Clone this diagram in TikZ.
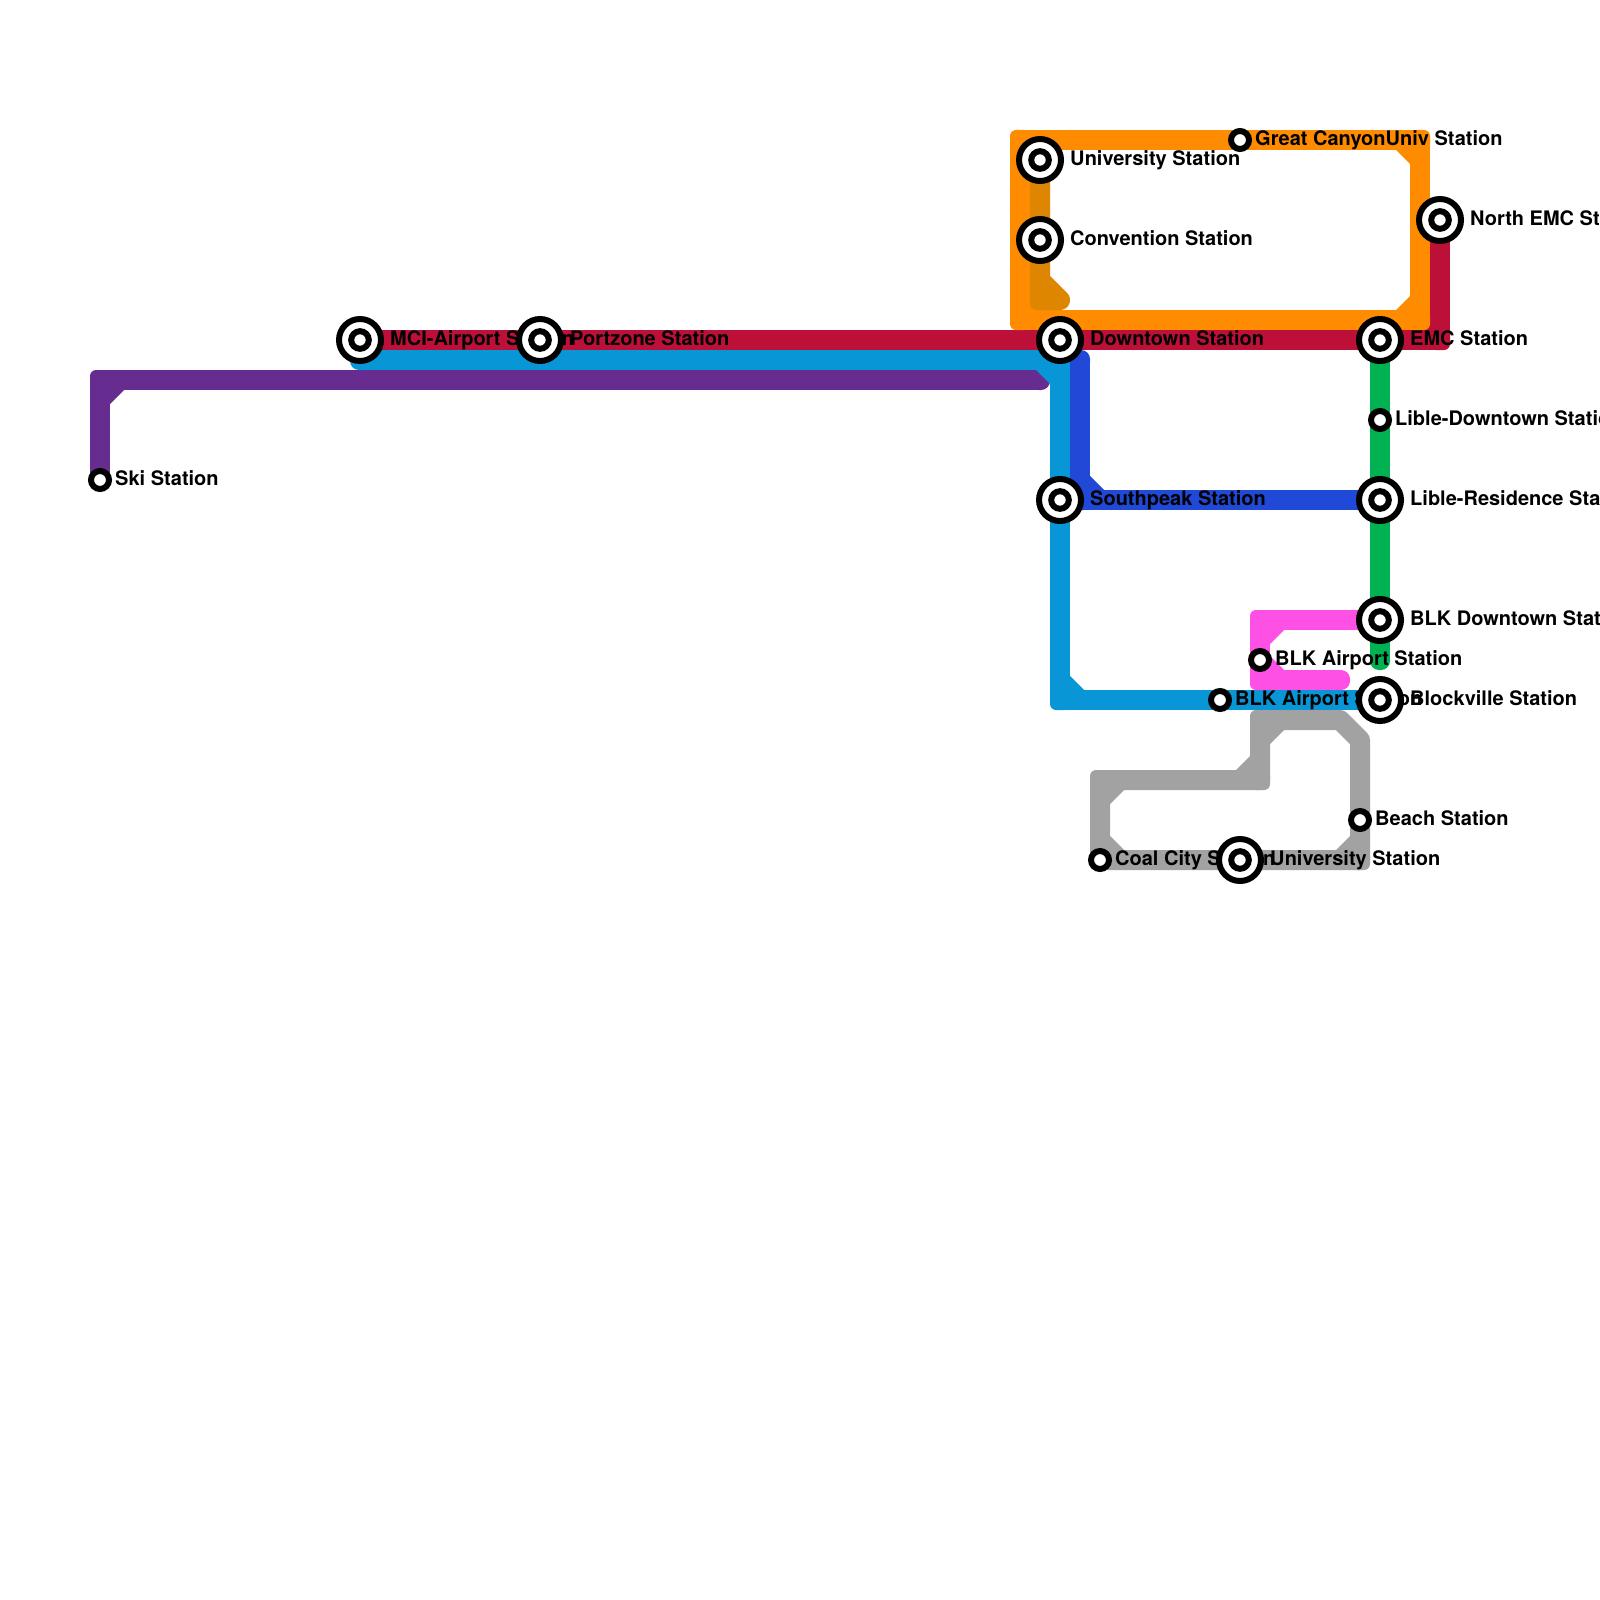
\documentclass[tikz,border=0pt]{standalone}
\usepackage{fontspec}
\setmainfont{TeX Gyre Heros}
\usetikzlibrary{calc}
\pgfdeclarelayer{lines}
\pgfdeclarelayer{labels}
\pgfsetlayers{lines,labels,main}
\definecolor{cRed}{HTML}{BD1038}
\definecolor{cOrange}{HTML}{FF8C00}
\definecolor{cDark}{HTML}{DF8600}
\definecolor{cCyan}{HTML}{0896D7}
\definecolor{cBlue}{HTML}{2149D8}
\definecolor{cPurple}{HTML}{662C90}
\definecolor{cGreen}{HTML}{00B251}
\definecolor{cPink}{HTML}{FF50E6}
\definecolor{cGrey}{HTML}{A2A2A2}
\tikzset{
  x=1pt,y=-1pt,
  bigst/.style={circle,draw=black,line width=6pt,fill=white,minimum size=42pt,inner sep=0pt,outer sep=0pt,
    path picture={\draw[black,line width=6pt] (path picture bounding box.center) circle (8.8pt);}},
  smallst/.style={circle,draw=black,line width=6pt,fill=white,minimum size=18pt,inner sep=0pt,outer sep=0pt},
  lbl/.style={anchor=base west,inner sep=0pt,font=\fontsize{20pt}{24pt}\selectfont\bfseries,text=black},
  route/.style={line width=20pt,line join=round,line cap=butt},
}
% rounded square at an outer corner
\newcommand{\rsq}[1]{\fill[rounded corners=6pt] ($(#1)+(-10,-10)$) rectangle ($(#1)+(10,10)$);}
% rounder square at a line end
\newcommand{\rnd}[1]{\fill[rounded corners=9pt] ($(#1)+(-10,-10)$) rectangle ($(#1)+(10,10)$);}
% chamfer in the inner side of a corner
\newcommand{\chf}[3]{\fill ($(#1)+(#2*10,#3*10)$) -- ($(#1)+(#2*24,#3*10)$) -- ($(#1)+(#2*10,#3*24)$) -- cycle;}
\begin{document}
\begin{tikzpicture}
\useasboundingbox (0,0) rectangle (1600,1600);
% stations
\node[smallst] (ski) at (100,480) {};
\node[bigst] (mci) at (360,340) {};
\node[bigst] (port) at (540,340) {};
\node[bigst] (down) at (1060,340) {};
\node[bigst] (univ) at (1040,160) {};
\node[bigst] (conv) at (1040,240) {};
\node[smallst] (great) at (1240,140) {};
\node[bigst] (north) at (1440,220) {};
\node[bigst] (emc) at (1380,340) {};
\node[smallst] (libd) at (1380,420) {};
\node[bigst] (libr) at (1380,500) {};
\node[bigst] (south) at (1060,500) {};
\node[bigst] (blkd) at (1380,620) {};
\node[smallst] (blka) at (1260,660) {};
\node[smallst] (blkb) at (1220,700) {};
\node[bigst] (block) at (1380,700) {};
\node[smallst] (beach) at (1360,820) {};
\node[bigst] (guniv) at (1240,860) {};
\node[smallst] (coal) at (1100,860) {};
% route corners
\coordinate (pA) at (100,380);
\coordinate (pB) at (1040,380);
\coordinate (cA) at (360,360);
\coordinate (cB) at (1060,360);
\coordinate (cC) at (1060,700);
\coordinate (rA) at (1440,340);
\coordinate (bA) at (1080,360);
\coordinate (bB) at (1080,500);
\coordinate (oA) at (1020,140);
\coordinate (oB) at (1420,140);
\coordinate (oC) at (1420,320);
\coordinate (oD) at (1020,320);
\coordinate (dA) at (1040,280);
\coordinate (dB) at (1060,300);
\coordinate (dC) at (1040,300);
\coordinate (gA) at (1100,780);
\coordinate (gB) at (1260,780);
\coordinate (gC) at (1260,720);
\coordinate (gD) at (1340,720);
\coordinate (gE) at (1360,740);
\coordinate (gF) at (1360,860);
\coordinate (gG) at (1100,860);
\coordinate (kA) at (1260,620);
\coordinate (kB) at (1260,680);
\coordinate (kC) at (1340,680);
\coordinate (nA) at (1380,660);
\begin{pgfonlayer}{lines}
  \fill[white] (0,0) rectangle (1600,1600);
  % red
  \begin{scope}[cRed]
    \draw[route,cRed] (mci.center) -- (port.center) -- (down.center) -- (emc.center) -- (rA) -- (north.center);
    \rsq{rA}\chf{rA}{-1}{-1}
  \end{scope}
  % purple
  \begin{scope}[cPurple]
    \draw[route,cPurple] (ski.center) -- (pA) -- (pB);
    \rsq{pA}\rnd{pB}\chf{pA}{1}{1}
  \end{scope}
  % cyan
  \begin{scope}[cCyan]
    \draw[route,cCyan] (cA) -- (cB) -- (south.center) -- (cC) -- (blkb.center) -- (block.center);
    \rnd{cA}\rsq{cB}\rsq{cC}\chf{cB}{-1}{1}\chf{cC}{1}{-1}
  \end{scope}
  % royal blue
  \begin{scope}[cBlue]
    \draw[route,cBlue] (bA) -- (bB) -- (libr.center);
    \rnd{bA}\rsq{bB}\chf{bB}{1}{-1}
  \end{scope}
  % green
  \begin{scope}[cGreen]
    \draw[route,cGreen] (emc.center) -- (libd.center) -- (libr.center) -- (blkd.center) -- (nA);
    \rnd{nA}
  \end{scope}
  % orange
  \begin{scope}[cOrange]
    \draw[route,cOrange] (oA) -- (great.center) -- (oB) -- (oC) -- (oD) -- cycle;
    \rsq{oA}\rsq{oB}\rsq{oC}\rsq{oD}
    \chf{oB}{-1}{1}\chf{oC}{-1}{-1}\chf{oD}{1}{-1}
  \end{scope}
  % dark orange
  \begin{scope}[cDark]
    \draw[route,cDark] (univ.center) -- (conv.center) -- (dC) -- (dB) -- (dA);
    \rsq{dC}
  \end{scope}
  % pink
  \begin{scope}[cPink]
    \draw[route,cPink] (blkd.center) -- (kA) -- (blka.center) -- (kB) -- (kC);
    \rsq{kA}\rsq{kB}\rnd{kC}\chf{kA}{1}{1}\chf{kB}{1}{-1}
  \end{scope}
  % grey
  \begin{scope}[cGrey]
    \draw[route,cGrey] (coal.center) -- (gA) -- (gB) -- (gC) -- (gD) -- (gE) -- (beach.center) -- (gF) -- (guniv.center) -- (gG);
    \rsq{gA}\rsq{gB}\rsq{gC}\rsq{gF}\rsq{gG}
    \chf{gA}{1}{1}\chf{gB}{-1}{-1}\chf{gC}{1}{1}\chf{gF}{-1}{-1}\chf{gG}{1}{-1}
  \end{scope}
\end{pgfonlayer}
\begin{pgfonlayer}{labels}
  \node[lbl] (tski) at (115,485) {Ski Station};
  \node[lbl] (tmci) at (390,345) {MCI-Airport Station};
  \node[lbl] (tport) at (570,345) {Portzone Station};
  \node[lbl] (tdown) at (1090,345) {Downtown Station};
  \node[lbl] (tuniv) at (1070,165) {University Station};
  \node[lbl] (tconv) at (1070,245) {Convention Station};
  \node[lbl] (tgreat) at (1255,145.7) {Great CanyonUniv Station};
  \node[lbl] (tnorth) at (1470,225) {North EMC Station};
  \node[lbl] (temc) at (1410,345) {EMC Station};
  \node[lbl] (tlibd) at (1395,425) {Lible-Downtown Station};
  \node[lbl] (tlibr) at (1410,505) {Lible-Residence Station};
  \node[lbl] (tsouth) at (1090,505) {Southpeak Station};
  \node[lbl] (tblkd) at (1410,625) {BLK Downtown Station};
  \node[lbl] (tblka) at (1275,665) {BLK Airport Station};
  \node[lbl] (tblkb) at (1235,705) {BLK Airport Station};
  \node[lbl] (tblock) at (1410,705) {Blockville Station};
  \node[lbl] (tbeach) at (1375,825) {Beach Station};
  \node[lbl] (tcoal) at (1115,865) {Coal City Station};
  \node[lbl] (tguniv) at (1270,865) {University Station};
\end{pgfonlayer}
\end{tikzpicture}
\end{document}
